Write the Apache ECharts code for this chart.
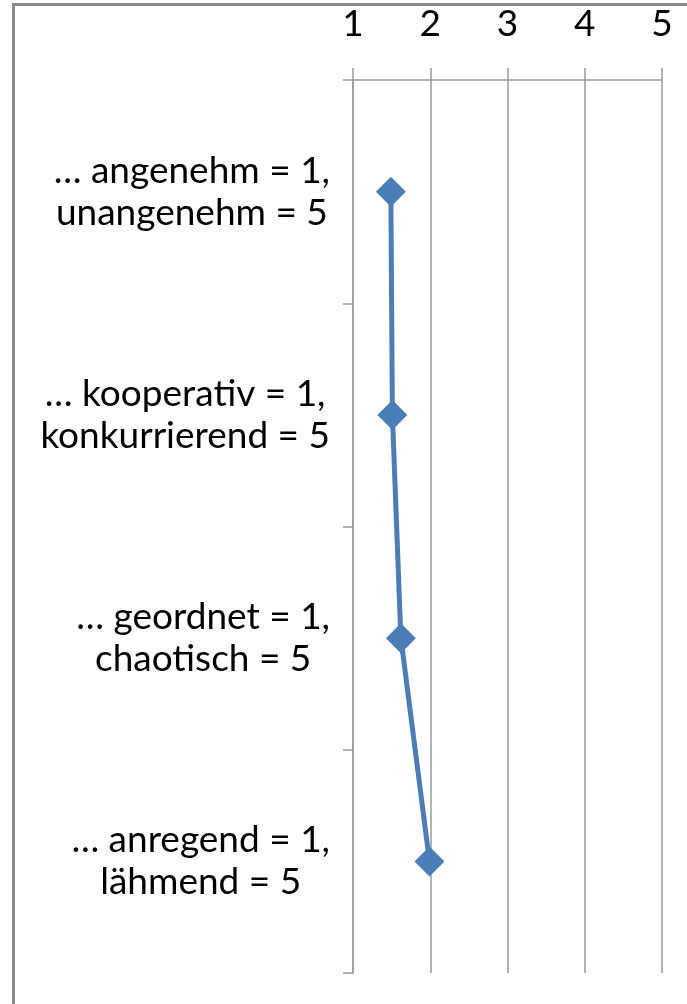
<!DOCTYPE html>
<html>
<head>
<meta charset="utf-8">
<script src="https://cdn.jsdelivr.net/npm/echarts@6/dist/echarts.min.js"></script>
<style>
html,body{margin:0;padding:0;background:#fff;}
#frame{position:absolute;left:12px;top:3px;width:700px;height:1020px;border-left:3px solid #8a8a8a;border-top:3px solid #8a8a8a;box-sizing:border-box;}
#chart{position:absolute;left:0;top:0;width:687px;height:1004px;}
</style>
</head>
<body>
<div id="frame"></div>
<div id="chart"></div>
<script>
const categories = [
  '… angenehm = 1,\nunangenehm = 5',
  '… kooperativ = 1,\nkonkurrierend = 5',
  '… geordnet = 1,\nchaotisch = 5',
  '… anregend = 1,\nlähmend = 5'
];
const values = [1.49, 1.51, 1.62, 1.99];
const xTicks = [1, 2, 3, 4, 5];

const FONT = 'Lato';
const chart = echarts.init(document.getElementById('chart'));
chart.setOption({
  animation: false,
  backgroundColor: 'transparent',
  grid: { left: 353, right: 25, top: 80, bottom: 31, containLabel: false },
  xAxis: {
    type: 'value',
    position: 'top',
    min: xTicks[0],
    max: xTicks[xTicks.length - 1],
    interval: 1,
    axisLine: { show: true, lineStyle: { color: '#9a9a9a', width: 1.5 } },
    axisTick: { show: true, inside: false, length: 12, lineStyle: { color: '#9a9a9a', width: 1.5 } },
    splitLine: { show: true, lineStyle: { color: '#9a9a9a', width: 1.5 } },
    axisLabel: { color: '#000', fontFamily: FONT, fontSize: 37, margin: 37 }
  },
  yAxis: {
    type: 'category',
    inverse: true,
    data: categories,
    boundaryGap: true,
    axisLine: { show: true, lineStyle: { color: '#9a9a9a', width: 1.5 } },
    axisTick: { show: true, inside: false, length: 10, lineStyle: { color: '#9a9a9a', width: 1.5 } },
    splitLine: { show: false },
    axisLabel: {
      margin: 23,
      align: 'right',
      color: '#000',
      fontFamily: FONT,
      fontSize: 37,
      lineHeight: 42,
      formatter: function (v) {
        return v.split('\n').map(function (l) { return '{c|' + l + '}'; }).join('\n');
      },
      rich: { c: { align: 'center', color: '#000', fontFamily: FONT, fontSize: 37, lineHeight: 42 } }
    }
  },
  series: [{
    type: 'line',
    data: values,
    symbol: 'diamond',
    symbolSize: 30,
    lineStyle: { color: '#4a7ebb', width: 5 },
    itemStyle: { color: '#4a7ebb' }
  }]
});
</script>
</body>
</html>
